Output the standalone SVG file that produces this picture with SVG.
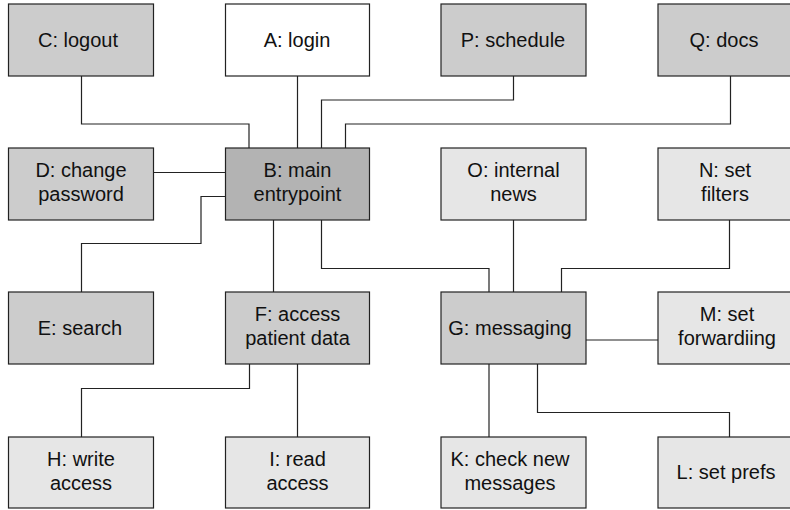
<svg xmlns="http://www.w3.org/2000/svg" width="790" height="510" viewBox="0 0 790 510">
<style>
.n rect{stroke:#222;stroke-width:1.2}
.w{fill:#ffffff}.d{fill:#b3b3b3}.m{fill:#cccccc}.l{fill:#e6e6e6}
text{font-family:"Liberation Sans",Arial,sans-serif;font-size:20px;fill:#111;text-anchor:middle}
#conn path{fill:none;stroke:#222;stroke-width:1.2}
</style>
<rect width="790" height="510" fill="#fff"/>
<g id="conn">
<path d="M81.5,76V124H249V148"/>
<path d="M297.5,76V148"/>
<path d="M513.5,76V100H321.5V148"/>
<path d="M730.5,76V124H345.5V148"/>
<path d="M153,172.5H225.5"/>
<path d="M225.5,196.5H201V243.5H81.5V292"/>
<path d="M273.5,220V292"/>
<path d="M321.5,220V268.5H489V292"/>
<path d="M513.5,220V292"/>
<path d="M729.5,220V268.5H561.5V292"/>
<path d="M586,340H658"/>
<path d="M489,364V437"/>
<path d="M537.5,364V412.5H729.5V437"/>
<path d="M249.5,364V388.5H81.5V437"/>
<path d="M297.5,364V437"/>
</g>
<g id="C" class="n"><rect class="m" x="8.5" y="4" width="145" height="72"/><text x="78" y="47">C: logout</text></g>
<g id="A" class="n"><rect class="w" x="225.5" y="4" width="144" height="72"/><text x="297" y="47">A: login</text></g>
<g id="P" class="n"><rect class="m" x="441" y="4" width="145" height="72"/><text x="513" y="47">P: schedule</text></g>
<g id="Q" class="n"><rect class="m" x="658" y="4" width="145" height="72"/><text x="724" y="47">Q: docs</text></g>
<g id="D" class="n"><rect class="m" x="8.5" y="148" width="145" height="72"/><text x="81" y="177">D: change</text><text x="81" y="201">password</text></g>
<g id="B" class="n"><rect class="d" x="225.5" y="148" width="144" height="72"/><text x="297.5" y="177">B: main</text><text x="297.5" y="201">entrypoint</text></g>
<g id="O" class="n"><rect class="l" x="441" y="148" width="145" height="72"/><text x="513.5" y="177">O: internal</text><text x="513.5" y="201">news</text></g>
<g id="N" class="n"><rect class="l" x="658" y="148" width="145" height="72"/><text x="725" y="177">N: set</text><text x="725" y="201">filters</text></g>
<g id="E" class="n"><rect class="m" x="8.5" y="292" width="145" height="72"/><text x="80" y="335">E: search</text></g>
<g id="F" class="n"><rect class="m" x="225.5" y="292" width="144" height="72"/><text x="297.5" y="321">F: access</text><text x="297.5" y="345">patient data</text></g>
<g id="G" class="n"><rect class="m" x="441" y="292" width="145" height="72"/><text x="510" y="335">G: messaging</text></g>
<g id="M" class="n"><rect class="l" x="658" y="292" width="145" height="72"/><text x="727" y="321">M: set</text><text x="727" y="345">forwardiing</text></g>
<g id="H" class="n"><rect class="l" x="8.5" y="437" width="145" height="71"/><text x="81" y="466">H: write</text><text x="81" y="490">access</text></g>
<g id="I" class="n"><rect class="l" x="225.5" y="437" width="144" height="71"/><text x="297.5" y="466">I: read</text><text x="297.5" y="490">access</text></g>
<g id="K" class="n"><rect class="l" x="441" y="437" width="145" height="71"/><text x="510" y="466">K: check new</text><text x="510" y="490">messages</text></g>
<g id="L" class="n"><rect class="l" x="658" y="437" width="145" height="71"/><text x="726" y="479">L: set prefs</text></g>
</svg>
